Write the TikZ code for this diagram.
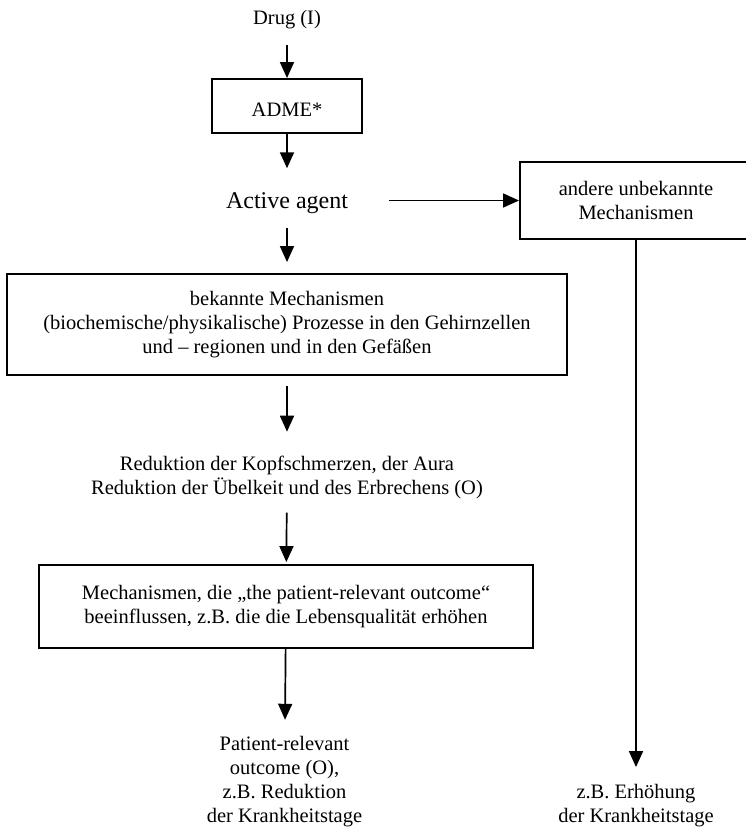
\documentclass[tikz,border=0pt]{standalone}
\usepackage{fontspec}
\setmainfont{Liberation Serif}
\usetikzlibrary{arrows.meta}
\newcommand{\mainsize}{\fontsize{20.5}{24}\selectfont}
\newcommand{\agentsize}{\fontsize{24}{28}\selectfont}
\begin{document}
\begin{tikzpicture}[x=1pt,y=-1pt,
  flowbox/.style={draw, line width=1.9pt, inner sep=0pt, align=center, font=\mainsize},
  flowtxt/.style={inner sep=0pt, align=center, font=\mainsize},
  flowarr/.style={-{Triangle[width=14pt,length=16pt]}, line width=1.7pt}]
\useasboundingbox (0,0) rectangle (745,829);

\node[flowtxt] (drug) at (287,20) {Drug (I)};
\node[flowbox, minimum width=150pt, minimum height=54pt, text height=22pt, text depth=0pt] (adme) at (287,106) {ADME*};
\node[flowtxt, font=\agentsize] (agent) at (287,203) {Active agent};
\node[flowbox, minimum width=232pt, minimum height=77pt] (ubox) at (636,200.5) {andere unbekannte\\Mechanismen};
\node[flowbox, minimum width=560pt, minimum height=101pt] (kbox) at (287,324.5) {bekannte Mechanismen\\(biochemische/physikalische) Prozesse in den Gehirnzellen\\und – regionen und in den Gefäßen};
\node[flowtxt] (red) at (287,477) {Reduktion der Kopfschmerzen, der Aura\\Reduktion der Übelkeit und des Erbrechens (O)};
\node[flowbox, minimum width=494pt, minimum height=83pt] (pbox) at (286,606.5) {Mechanismen, die „the patient-relevant outcome“\\beeinflussen, z.B. die die Lebensqualität erhöhen};
\node[flowtxt] (pro) at (284.5,782) {Patient-relevant\\outcome (O),\\z.B. Reduktion\\der Krankheitstage};
\node[flowtxt] (ert) at (636,805.6) {z.B. Erhöhung\\der Krankheitstage};

\draw[flowarr, shorten <=15.5pt] (drug) -- (adme);
\draw[flowarr, shorten >=24pt] (adme) -- (agent);
\draw[flowarr, shorten <=14pt, shorten >=11pt] (agent) -- (kbox);
\draw[flowarr, shorten <=10pt, shorten >=23.7pt] (kbox) -- (red);
\draw[flowarr, shorten <=14pt, shorten >=2pt] (red) -- (pbox);
\draw[flowarr, shorten >=16.7pt] (pbox) -- (pro);
\draw[flowarr] ([xshift=41pt]agent.east |- ubox.west) -- (ubox.west);
\draw[flowarr, shorten >=17pt] (ubox) -- (ert);
\end{tikzpicture}
\end{document}
